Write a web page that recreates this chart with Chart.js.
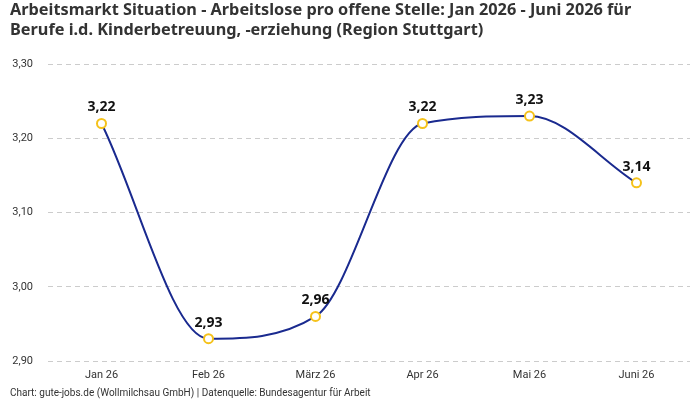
<!DOCTYPE html>
<html>
<head>
<meta charset="utf-8">
<script src="https://cdn.jsdelivr.net/npm/chart.js@4/dist/chart.umd.min.js"></script>
<style>
html,body{margin:0;padding:0;background:#fff;}
#wrap{width:700px;height:400px;position:relative;}
</style>
</head>
<body>
<div id="wrap"><canvas id="c" width="700" height="400"></canvas></div>
<script>
const categories = ["Jan 26", "Feb 26", "März 26", "Apr 26", "Mai 26", "Juni 26"];
const values = [3.22, 2.93, 2.96, 3.22, 3.23, 3.14];
const titleLines = ["Arbeitsmarkt Situation - Arbeitslose pro offene Stelle: Jan 2026 - Juni 2026 für", "Berufe i.d. Kinderbetreuung, -erziehung (Region Stuttgart)"];
const footerText = "Chart: gute-jobs.de (Wollmilchsau GmbH) | Datenquelle: Bundesagentur für Arbeit";

const fmt = v => v.toFixed(2).replace('.', ',');

const labelPlugin = {
  id: 'valueLabels',
  afterDatasetsDraw(chart) {
    const ctx = chart.ctx;
    const meta = chart.getDatasetMeta(0);
    ctx.save();
    ctx.font = 'bold 14px "Noto Sans", sans-serif';
    ctx.fillStyle = '#111';
    ctx.textAlign = 'center';
    ctx.textBaseline = 'bottom';
    meta.data.forEach((pt, i) => {
      ctx.fillText(fmt(values[i]), pt.x, pt.y - 9);
    });
    ctx.restore();
  }
};

new Chart(document.getElementById('c'), {
  type: 'line',
  data: {
    labels: categories,
    datasets: [{
      data: values,
      borderColor: '#1a2a8f',
      borderWidth: 2,
      cubicInterpolationMode: 'monotone',
      pointRadius: 4.5,
      pointBorderWidth: 2,
      pointBackgroundColor: '#ffffff',
      pointBorderColor: '#f5c21b',
      fill: false
    }]
  },
  options: {
    responsive: false,
    animation: false,
    layout: { padding: { left: 10, right: 10, top: 0, bottom: 0 } },
    plugins: {
      legend: { display: false },
      tooltip: { enabled: false },
      title: {
        display: true,
        text: titleLines,
        align: 'start',
        color: '#333',
        font: { family: '"Noto Sans", sans-serif', size: 16.3, weight: 'bold', lineHeight: 1.2 },
        padding: { top: 1, bottom: 24 }
      },
      subtitle: {
        display: true,
        position: 'bottom',
        text: footerText,
        align: 'start',
        color: '#333',
        font: { family: 'Roboto, sans-serif', size: 10, lineHeight: 1.2 },
        padding: { top: 4, bottom: 1 }
      }
    },
    scales: {
      x: {
        offset: true,
        grid: { display: false, drawTicks: false },
        border: { display: false },
        afterFit: s => { s.height = 22; },
        ticks: { color: '#333', font: { family: 'Roboto, sans-serif', size: 11 }, padding: 8 }
      },
      y: {
        min: 2.9,
        max: 3.3,
        afterFit: s => { s.width = 38; },
        grid: { color: '#cccccc', tickLength: 0, lineWidth: 1 },
        border: { display: false, dash: [5, 4] },
        ticks: {
          stepSize: 0.1,
          color: '#333',
          padding: 15,
          font: { family: 'Roboto, sans-serif', size: 11 },
          callback: v => fmt(v)
        }
      }
    }
  },
  plugins: [labelPlugin]
});
</script>
</body>
</html>
